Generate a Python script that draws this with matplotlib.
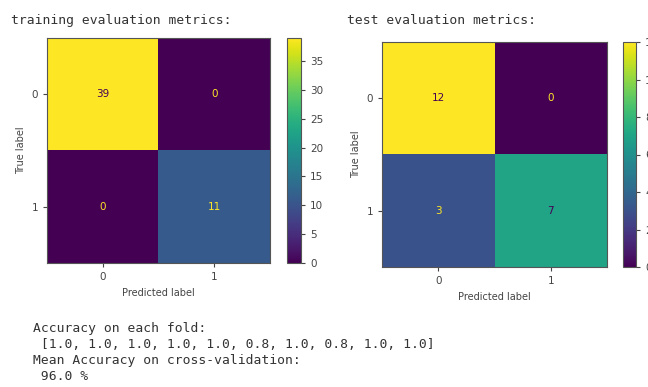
import numpy as np
import matplotlib
matplotlib.use("Agg")
import matplotlib.pyplot as plt

# confusion matrices
train_cm = np.array([[39, 0], [0, 11]])
test_cm = np.array([[12, 0], [3, 7]])
class_labels = ["0", "1"]
fold_acc = [1.0, 1.0, 1.0, 1.0, 1.0, 0.8, 1.0, 0.8, 1.0, 1.0]
mean_acc = 96.0

W, H = 648, 387
fig = plt.figure(figsize=(W / 100, H / 100), dpi=100)
cmap = plt.get_cmap("viridis")


def px(x0, y0, x1, y1):
    # pixel box -> figure fraction
    return [x0 / W, 1 - y1 / H, (x1 - x0) / W, (y1 - y0) / H]


def draw_cm(cm, ax_box, cb_box, cb_ticks):
    ax = fig.add_axes(px(*ax_box))
    im = ax.imshow(cm, cmap=cmap, interpolation="nearest", aspect="auto")
    thresh = (cm.max() + cm.min()) / 2.0
    for i in range(cm.shape[0]):
        for j in range(cm.shape[1]):
            c = cmap(1.0) if cm[i, j] < thresh else cmap(0.0)
            ax.text(j, i, str(cm[i, j]), ha="center", va="center", color=c, fontsize=7.5)
    ax.set_xticks(range(len(class_labels)))
    ax.set_yticks(range(len(class_labels)))
    ax.set_xticklabels(class_labels)
    ax.set_yticklabels(class_labels)
    ax.tick_params(labelsize=7.5, colors="#444444", length=3)
    ax.set_xlabel("Predicted label", fontsize=7, color="#444444")
    ax.set_ylabel("True label", fontsize=7, color="#444444")
    for s in ax.spines.values():
        s.set_color("#555555")
    cax = fig.add_axes(px(*cb_box))
    cb = fig.colorbar(im, cax=cax, ticks=cb_ticks)
    cb.ax.tick_params(labelsize=7.5, colors="#444444", length=3)
    cb.outline.set_edgecolor("#555555")
    return ax


draw_cm(train_cm, (47, 38, 270, 263), (287, 38, 301, 263), np.arange(0, 40, 5))
draw_cm(test_cm, (382, 42, 607, 267), (623, 42, 636, 267), np.arange(0, 13, 2))

mono = dict(family="DejaVu Sans Mono", fontsize=9.4, color="#333333")
fig.text(11 / W, 1 - 24 / H, "training evaluation metrics:", **mono)
fig.text(347 / W, 1 - 24 / H, "test evaluation metrics:", **mono)

lines = [
    "Accuracy on each fold:",
    " " + str(fold_acc),
    "Mean Accuracy on cross-validation:",
    " " + str(mean_acc) + " %",
]
for k, line in enumerate(lines):
    fig.text(33 / W, 1 - (332 + 16 * k) / H, line, **mono)

fig.savefig("out.png", dpi=100, facecolor="white")
